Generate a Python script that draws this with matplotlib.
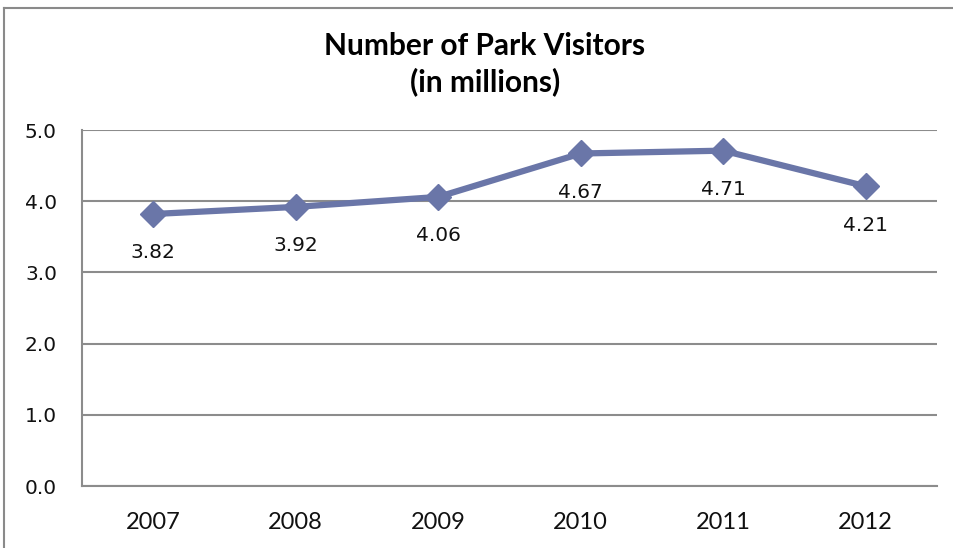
import matplotlib.pyplot as plt
from matplotlib.lines import Line2D

years = ['2007', '2008', '2009', '2010', '2011', '2012']
visitors = [3.82, 3.92, 4.06, 4.67, 4.71, 4.21]
yticks = [0.0, 1.0, 2.0, 3.0, 4.0, 5.0]

line_color = '#6a76a8'
grid_color = '#8c8c8c'
heading_font = ['Lato', 'DejaVu Sans']
value_font = ['DejaVu Sans']

fig = plt.figure(figsize=(9.54, 5.48), dpi=100)

# outer chart border: top and left edges only, the rest runs off the image
bx, by = 4 / 954, 1 - 8 / 548
fig.lines.append(Line2D([bx, 1.0], [by, by], transform=fig.transFigure,
                        color='#8a8a8a', linewidth=1.5))
fig.lines.append(Line2D([bx, bx], [0.0, by], transform=fig.transFigure,
                        color='#8a8a8a', linewidth=1.5))

ax = fig.add_axes([82 / 954, 62 / 548, 855 / 954, 356 / 548])
x = range(len(years))
ax.plot(x, visitors, color=line_color, linewidth=4.5, marker='D',
        markersize=13, markerfacecolor=line_color, markeredgecolor=line_color,
        zorder=3)

for xi, v in zip(x, visitors):
    ax.annotate('%.2f' % v, (xi, v), xytext=(0, -28), textcoords='offset points',
                ha='center', va='center', fontsize=14.5, family=value_font,
                color='#111111')

ax.set_xlim(-0.5, len(years) - 0.5)
ax.set_ylim(0, 5)
ax.set_yticks(yticks)
ax.set_yticklabels(['%.1f' % t for t in yticks], fontsize=14.5,
                   family=value_font, color='#111111')
ax.set_xticks(list(x))
ax.set_xticklabels(years, fontsize=17, family=heading_font, color='#111111')
ax.tick_params(length=0)
ax.tick_params(axis='y', pad=18)
ax.tick_params(axis='x', pad=19)

ax.grid(axis='y', color=grid_color, linewidth=1.5)
ax.set_axisbelow(True)
for side in ['top', 'right']:
    ax.spines[side].set_visible(False)
for side in ['left', 'bottom']:
    ax.spines[side].set_color(grid_color)
    ax.spines[side].set_linewidth(1.5)

fig.text(485 / 954, 1 - 64 / 548, 'Number of Park Visitors\n(in millions)',
         ha='center', va='center', fontsize=21.5, fontweight='bold',
         family=heading_font, linespacing=1.3)

fig.savefig('out.png', dpi=100)
